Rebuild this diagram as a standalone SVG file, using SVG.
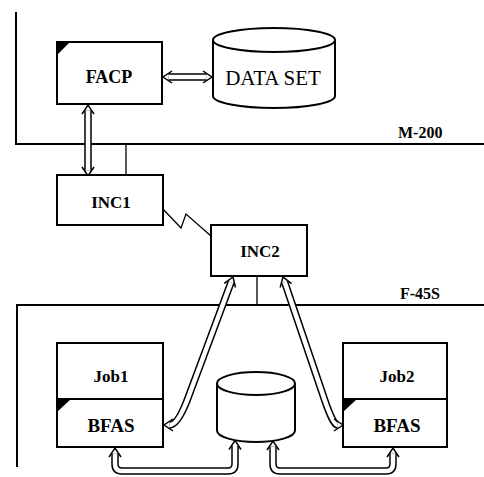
<svg xmlns="http://www.w3.org/2000/svg" xmlns:xlink="http://www.w3.org/1999/xlink" width="484" height="477" viewBox="0 0 484 477">
<style>
.bg{fill:#fff}
.frame{fill:none;stroke:#000;stroke-width:2}
.box{fill:#fff;stroke:#000;stroke-width:2}
.thin{fill:none;stroke:#000;stroke-width:1.3}
.tri{fill:#000}
.shO{fill:none;stroke:#000;stroke-width:7.5}
.shI{fill:none;stroke:#fff;stroke-width:4.5}
.head{fill:none;stroke:#000;stroke-width:1.5;stroke-linejoin:miter}
text{font-family:"Liberation Serif","Times New Roman",serif;fill:#000;text-anchor:middle}
.lbl{font-weight:bold;font-size:17px}
.sys{font-weight:bold;font-size:16px;text-anchor:start}
</style>
<defs>
<path id="chev" d="M-6,9 L0,0 L6,9"/>
<path id="a1" d="M168.5,77 L206.5,77"/>
<path id="a2" d="M88,110.5 L88,170.5"/>
<path id="a3" d="M231.1,282.2 L188,398 Q178,425 169.5,425"/>
<path id="a4" d="M284.7,282.2 L324,398 Q333,425 337.5,425"/>
<path id="a5" d="M115,453.5 L115,464 Q115,471 122,471 L228,471 Q235,471 235,464 L235,446"/>
<path id="a6" d="M273,446.5 L273,464 Q273,471 280,471 L386,471 Q393,471 393,464 L393,453.5"/>
</defs>
<rect class="bg" x="0" y="0" width="484" height="477"/>

<g id="m200">
<path class="frame" d="M16,12 L16,144 L484,144"/>
<text class="sys" x="398" y="138">M-200</text>
</g>
<g id="f45s">
<path class="frame" d="M17,467 L17,305 L484,305"/>
<text class="sys" x="400" y="299">F-45S</text>
</g>

<g id="connectors">
<path class="thin" d="M126,144 L126,176"/>
<path class="thin" d="M257,276 L257,305"/>
<path class="thin" d="M162,208 L181,228 L186,214 L211,236"/>
<use href="#a1" class="shO"/><use href="#a1" class="shI"/>
<use href="#a2" class="shO"/><use href="#a2" class="shI"/>
<use href="#a3" class="shO"/><use href="#a3" class="shI"/>
<use href="#a4" class="shO"/><use href="#a4" class="shI"/>
<use href="#a5" class="shO"/><use href="#a5" class="shI"/>
<use href="#a6" class="shO"/><use href="#a6" class="shI"/>
<use href="#chev" class="head" transform="translate(163,77) rotate(-90)"/>
<use href="#chev" class="head" transform="translate(212,77) rotate(90)"/>
<use href="#chev" class="head" transform="translate(88,105)"/>
<use href="#chev" class="head" transform="translate(88,176) rotate(180)"/>
<use href="#chev" class="head" transform="translate(233,277) rotate(20.4)"/>
<use href="#chev" class="head" transform="translate(164,425) rotate(-90)"/>
<use href="#chev" class="head" transform="translate(283,277) rotate(-18.4)"/>
<use href="#chev" class="head" transform="translate(343,425) rotate(90)"/>
<use href="#chev" class="head" transform="translate(115,448)"/>
<use href="#chev" class="head" transform="translate(235,440.5)"/>
<use href="#chev" class="head" transform="translate(273,441)"/>
<use href="#chev" class="head" transform="translate(393,448)"/>
</g>

<g id="facp">
<rect class="box" x="57" y="42" width="105" height="62"/>
<path class="tri" d="M57,42 L70,42 L57,55 Z"/>
<text class="lbl" x="109" y="83" style="font-size:18px">FACP</text>
</g>

<g id="dataset">
<path class="box" d="M213,40 L213,96 A61,12 0 0 0 335,96 L335,40"/>
<ellipse class="box" cx="274" cy="40" rx="61" ry="12"/>
<text x="273" y="85" style="font-size:21px">DATA SET</text>
</g>

<g id="inc1">
<rect class="box" x="57" y="175" width="106" height="50"/>
<text class="lbl" x="111" y="208">INC1</text>
</g>

<g id="inc2">
<rect class="box" x="211" y="225" width="96" height="51"/>
<text class="lbl" x="260" y="257">INC2</text>
</g>

<g id="job1">
<rect class="box" x="57" y="343" width="106" height="104"/>
<path class="frame" d="M57,399 L163,399"/>
<path class="tri" d="M57,399 L71,399 L57,412 Z"/>
<text class="lbl" x="111" y="382">Job1</text>
<text class="lbl" x="111" y="432" style="font-size:19px">BFAS</text>
</g>

<g id="job2">
<rect class="box" x="343" y="343" width="104" height="104"/>
<path class="frame" d="M343,399 L447,399"/>
<path class="tri" d="M343,399 L357,399 L343,412 Z"/>
<text class="lbl" x="397" y="382">Job2</text>
<text class="lbl" x="397" y="432" style="font-size:19px">BFAS</text>
</g>

<g id="disk">
<path class="box" d="M217,383.5 L217,430.5 A39,11.5 0 0 0 295,430.5 L295,383.5"/>
<ellipse class="box" cx="256" cy="383.5" rx="39" ry="11.5"/>
</g>
</svg>
